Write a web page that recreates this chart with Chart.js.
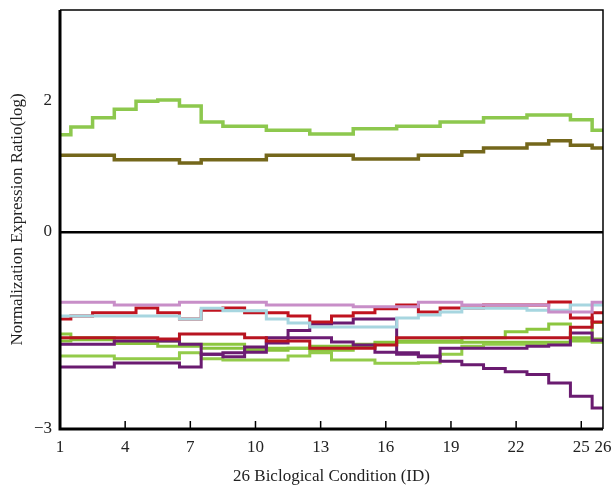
<!DOCTYPE html>
<html>
<head>
<meta charset="utf-8">
<script src="https://cdn.jsdelivr.net/npm/chart.js@4/dist/chart.umd.min.js"></script>
<style>
  html, body { margin: 0; padding: 0; background: #fff; }
  #wrap { width: 612px; height: 493px; }
</style>
</head>
<body>
<div id="wrap"><canvas id="chart" width="612" height="493"></canvas></div>
<script>
/* ── Data ── */
const conditions = [1,2,3,4,5,6,7,8,9,10,11,12,13,14,15,16,17,18,19,20,21,22,23,24,25,26];
const xTickValues = [1,4,7,10,13,16,19,22,25,26];
const yTickValues = [-3,0,2];

const topGreen = [1.48,1.60,1.74,1.87,1.99,2.01,1.92,1.675,1.61,1.61,1.55,1.55,1.49,1.49,1.57,1.57,1.61,1.61,1.675,1.675,1.74,1.74,1.78,1.78,1.71,1.55];
const olive    = [1.17,1.17,1.17,1.10,1.10,1.10,1.05,1.10,1.10,1.10,1.17,1.17,1.17,1.17,1.11,1.11,1.11,1.17,1.17,1.22,1.28,1.28,1.34,1.39,1.32,1.28];
const pink     = [-1.07,-1.07,-1.07,-1.11,-1.11,-1.11,-1.07,-1.07,-1.07,-1.07,-1.11,-1.11,-1.11,-1.11,-1.14,-1.14,-1.14,-1.07,-1.07,-1.11,-1.11,-1.11,-1.11,-1.22,-1.22,-1.07];
const lightBlue= [-1.28,-1.28,-1.28,-1.28,-1.28,-1.28,-1.325,-1.16,-1.20,-1.20,-1.325,-1.386,-1.447,-1.447,-1.447,-1.447,-1.31,-1.264,-1.218,-1.16,-1.16,-1.16,-1.19,-1.19,-1.11,-1.11];
const red1     = [-1.325,-1.28,-1.23,-1.23,-1.157,-1.23,-1.325,-1.19,-1.157,-1.23,-1.23,-1.28,-1.37,-1.28,-1.23,-1.17,-1.11,-1.218,-1.157,-1.157,-1.11,-1.11,-1.11,-1.066,-1.31,-1.37];
const red2     = [-1.61,-1.61,-1.61,-1.61,-1.61,-1.63,-1.555,-1.555,-1.555,-1.61,-1.66,-1.66,-1.77,-1.77,-1.77,-1.72,-1.61,-1.61,-1.61,-1.61,-1.61,-1.61,-1.61,-1.61,-1.45,-1.23];
const purple1  = [-1.71,-1.71,-1.71,-1.66,-1.66,-1.66,-1.71,-1.86,-1.90,-1.83,-1.69,-1.61,-1.61,-1.675,-1.72,-1.83,-1.86,-1.89,-1.77,-1.77,-1.77,-1.77,-1.74,-1.72,-1.54,-1.65];
const purple2  = [-2.056,-2.056,-2.056,-1.995,-1.995,-1.995,-2.056,-1.86,-1.84,-1.75,-1.61,-1.50,-1.40,-1.386,-1.325,-1.325,-1.84,-1.90,-1.97,-2.02,-2.08,-2.13,-2.17,-2.30,-2.50,-2.68];
const green1   = [-1.555,-1.61,-1.61,-1.66,-1.66,-1.66,-1.71,-1.71,-1.71,-1.77,-1.77,-1.77,-1.80,-1.80,-1.74,-1.71,-1.68,-1.68,-1.68,-1.61,-1.61,-1.52,-1.48,-1.40,-1.66,-1.38];
const green2   = [-1.89,-1.89,-1.89,-1.93,-1.93,-1.93,-1.84,-1.93,-1.95,-1.95,-1.95,-1.89,-1.84,-1.95,-1.95,-2.0,-2.0,-1.99,-1.86,-1.74,-1.71,-1.71,-1.71,-1.71,-1.65,-1.68];
const green3   = [-1.66,-1.64,-1.64,-1.70,-1.70,-1.74,-1.74,-1.77,-1.77,-1.80,-1.80,-1.77,-1.74,-1.74,-1.71,-1.68,-1.66,-1.66,-1.66,-1.68,-1.68,-1.68,-1.68,-1.68,-1.61,-1.63];

const SERIF = '"Liberation Serif", "DejaVu Serif", serif';

function series(values, color, width) {
  return {
    data: values.map((v, i) => ({ x: conditions[i], y: v })),
    borderColor: color,
    borderWidth: width,
    stepped: 'middle',
    pointRadius: 0,
    fill: false
  };
}

/* ── Frame + inner tick marks ── */
const framePlugin = {
  id: 'frame',
  afterDraw(chart) {
    const { ctx, chartArea: a, scales } = chart;
    ctx.save();
    ctx.strokeStyle = '#000';
    ctx.lineWidth = 1.5;
    ctx.beginPath();
    ctx.moveTo(a.left, a.top); ctx.lineTo(a.right, a.top); ctx.lineTo(a.right, a.bottom);
    ctx.stroke();
    ctx.lineWidth = 3;
    ctx.beginPath();
    ctx.moveTo(a.left, a.top); ctx.lineTo(a.left, a.bottom); ctx.lineTo(a.right, a.bottom);
    ctx.stroke();
    ctx.lineWidth = 1.5;
    xTickValues.slice(1, -1).forEach(v => {
      const px = scales.x.getPixelForValue(v);
      ctx.beginPath();
      ctx.moveTo(px, a.bottom);
      ctx.lineTo(px, a.bottom - 8);
      ctx.stroke();
    });
    ctx.restore();
  }
};

new Chart(document.getElementById('chart'), {
  type: 'line',
  data: {
    datasets: [
      series(topGreen, '#8dc84e', 3.5),
      series(olive, '#74671b', 3.5),
      series(pink, '#c88ec8', 3),
      series(lightBlue, '#a7d6e0', 3),
      series(red1, '#c0131f', 3),
      series(red2, '#b81420', 3),
      series(purple1, '#6c1c74', 3),
      series(purple2, '#6a1b70', 3),
      series(green1, '#8cc63f', 3),
      series(green2, '#93cb4a', 3),
      series(green3, '#88c23c', 3)
    ]
  },
  options: {
    responsive: false,
    animation: false,
    layout: { padding: { top: 10, right: 9, left: 0, bottom: 0 } },
    plugins: { legend: { display: false }, tooltip: { enabled: false } },
    scales: {
      x: {
        type: 'linear',
        min: 1, max: 26,
        afterBuildTicks: s => { s.ticks = xTickValues.map(v => ({ value: v })); },
        afterFit: s => { s.height = 64; s.paddingLeft = 0; s.paddingRight = 0; },
        grid: { display: false, drawTicks: false },
        border: { display: false },
        ticks: {
          autoSkip: false, maxRotation: 0, padding: 8, color: '#222',
          font: { family: SERIF, size: 17 }
        },
        title: {
          display: true, text: '26 Biclogical Condition (ID)', color: '#222',
          font: { family: SERIF, size: 17 }, padding: { top: 0, bottom: 6 }
        }
      },
      y: {
        min: -3, max: 3.38,
        afterBuildTicks: s => { s.ticks = yTickValues.map(v => ({ value: v })); },
        afterFit: s => { s.width = 60; s.paddingTop = 0; s.paddingBottom = 0; },
        grid: {
          drawTicks: false,
          color: c => c.tick && c.tick.value === 0 ? '#000' : 'rgba(0,0,0,0)',
          lineWidth: 2.5
        },
        border: { display: false },
        ticks: {
          padding: 8, color: '#222',
          font: { family: SERIF, size: 17 },
          callback: v => (v < 0 ? '\u2212' + Math.abs(v) : String(v))
        },
        title: {
          display: true, text: 'Normalization Expression Ratio(log)', color: '#222',
          font: { family: SERIF, size: 17 }, padding: { top: 7, bottom: 0 }
        }
      }
    }
  },
  plugins: [framePlugin]
});
</script>
</body>
</html>
